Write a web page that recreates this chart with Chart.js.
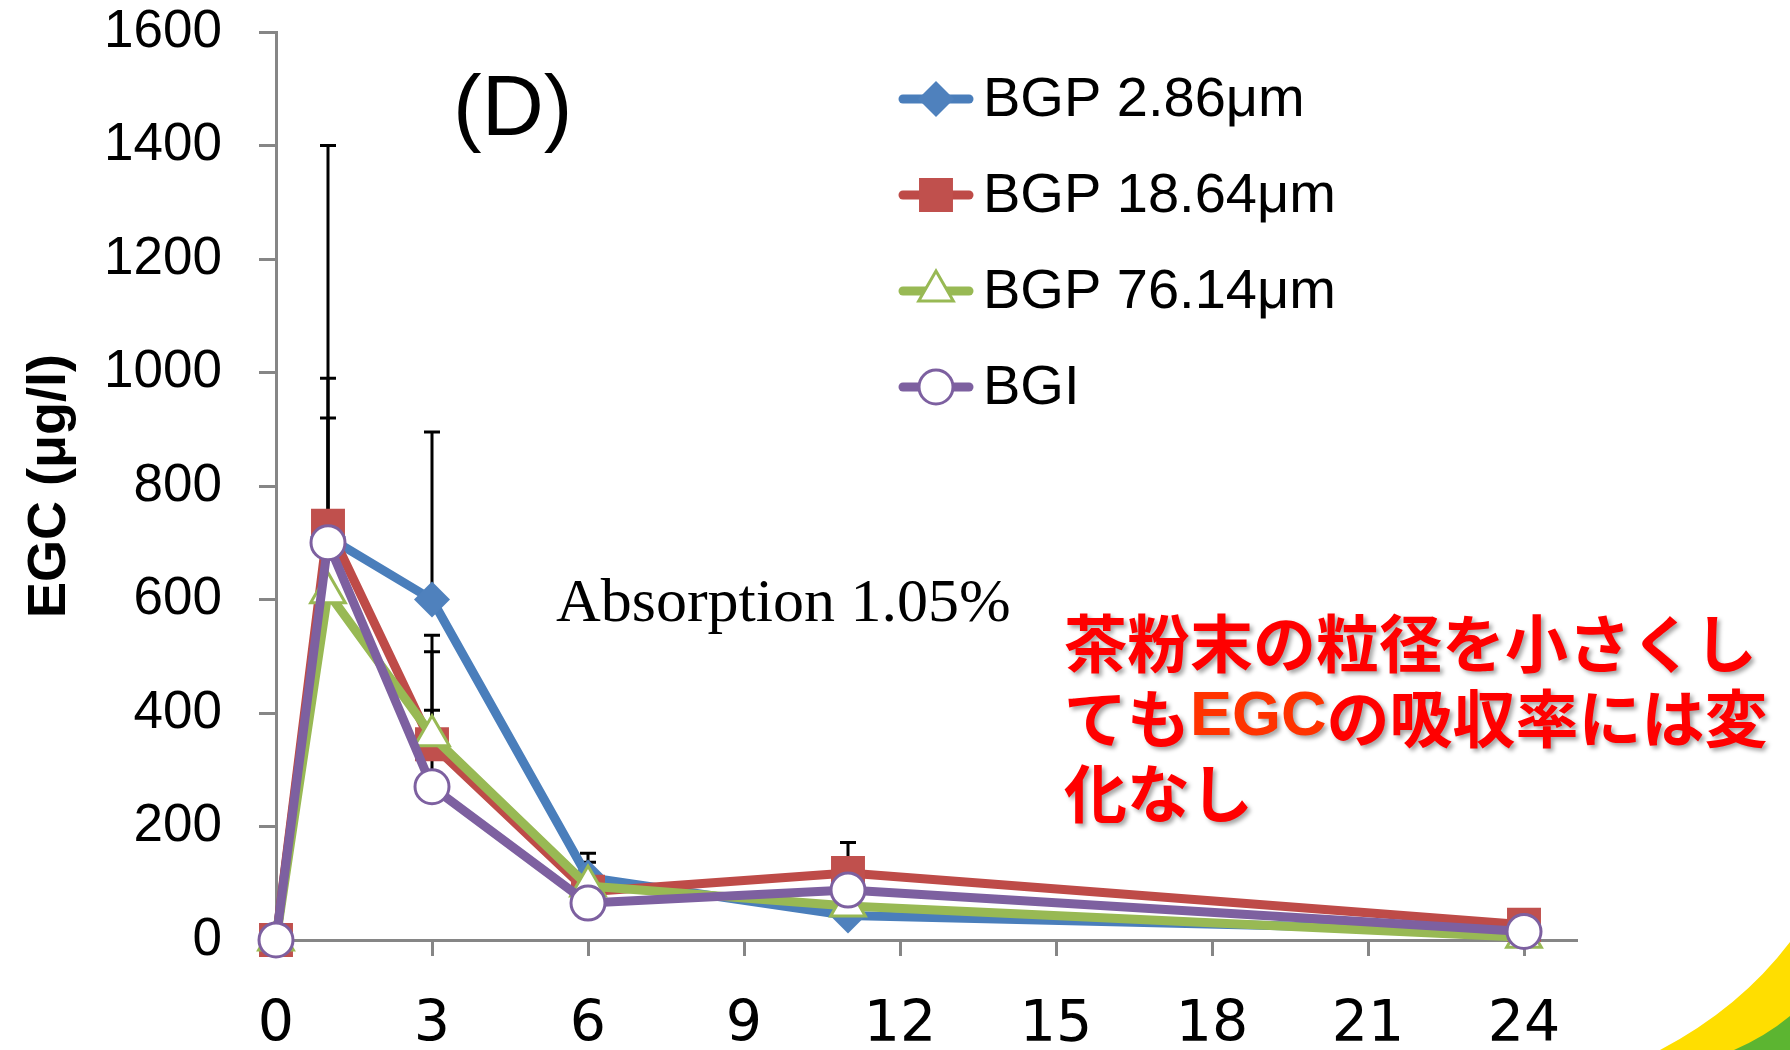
<!DOCTYPE html>
<html>
<head>
<meta charset="utf-8">
<script src="https://cdn.jsdelivr.net/npm/chart.js@4/dist/chart.umd.min.js"></script>
<style>
	body { margin: 0; background: #fff; }
	canvas { display: block; }
</style>
</head>
<body>
<canvas id="egc-chart" width="1790" height="1050"></canvas>
<script>
const hours = [0, 1, 3, 6, 11, 24];
const seriesNames = ["BGP 2.86μm", "BGP 18.64μm", "BGP 76.14μm", "BGI"];
const bgp286 = [0, 710, 600, 110, 43, 15];
const bgp1864 = [0, 730, 345, 85, 118, 27];
const bgp7614 = [0, 612, 360, 95, 60, 5];
const bgi = [0, 700, 270, 65, 88, 15];
// upper ends of the error bars (mean + SD), null = not visible
const err286 = [null, 1400, 895, 153, null, null];
const err1864 = [null, 990, 508, null, 172, null];
const err7614 = [null, null, 537, 137, null, null];
const errBgi = [null, 920, 405, null, null, null];
const xTicks = [0, 3, 6, 9, 12, 15, 18, 21, 24];
const noteLines = ["茶粉末の粒径を小さくし", "てもEGCの吸収率には変", "化なし"];

const toPoints = (values) => values.map((v, i) => ({ x: hours[i], y: v }));
const axisGrey = "#868686";

const errorBars = {
	id: "errorBars",
	beforeDatasetsDraw(chart) {
		const { ctx, scales } = chart;
		ctx.save();
		ctx.strokeStyle = "#000";
		ctx.lineWidth = 3;
		chart.data.datasets.forEach((ds) => {
			ds.errUp.forEach((top, i) => {
				if (top === null) return;
				const x = scales.x.getPixelForValue(hours[i]);
				const y0 = scales.y.getPixelForValue(ds.data[i].y);
				const y1 = scales.y.getPixelForValue(top);
				ctx.beginPath();
				ctx.moveTo(x, y0);
				ctx.lineTo(x, y1);
				ctx.moveTo(x - 8, y1);
				ctx.lineTo(x + 8, y1);
				ctx.stroke();
			});
		});
		ctx.restore();
	},
};

const overlay = {
	id: "overlay",
	afterDraw(chart) {
		const ctx = chart.ctx;
		ctx.save();

		// legend: line sample with marker, drawn from the datasets
		chart.data.datasets.forEach((ds, i) => {
			const y = 99 + i * 96;
			ctx.strokeStyle = ds.borderColor;
			ctx.lineWidth = 9;
			ctx.lineCap = "round";
			ctx.beginPath();
			ctx.moveTo(903, y);
			ctx.lineTo(969, y);
			ctx.stroke();
			ctx.fillStyle = ds.pointBackgroundColor;
			ctx.strokeStyle = ds.pointBorderColor;
			ctx.lineWidth = ds.pointBorderWidth;
			Chart.helpers.drawPoint(ctx, {
				pointStyle: ds.pointStyle,
				radius: ds.pointRadius,
				rotation: 0,
				borderWidth: ds.pointBorderWidth,
			}, 936, y);
			ctx.fillStyle = "#000";
			ctx.font = "56px 'Liberation Sans', Arial, sans-serif";
			ctx.textBaseline = "middle";
			ctx.textAlign = "left";
			ctx.fillText(ds.label, 983, y + 2);
		});

		ctx.fillStyle = "#000";
		ctx.textBaseline = "alphabetic";
		ctx.font = "86px 'Liberation Sans', Arial, sans-serif";
		ctx.fillText("(D)", 453, 135);
		ctx.font = "62px 'Liberation Serif', 'Times New Roman', serif";
		ctx.fillText("Absorption 1.05%", 556, 621);

		// red note with soft shadow
		ctx.shadowColor = "rgba(0,0,0,0.35)";
		ctx.shadowOffsetX = 3;
		ctx.shadowOffsetY = 3;
		ctx.shadowBlur = 4;
		ctx.textBaseline = "middle";
		const jp = "bold 63px 'Noto Sans CJK JP', sans-serif";
		const lat = "bold 63px 'Liberation Sans', Arial, sans-serif";
		noteLines.forEach((line, i) => {
			const y = 643 + i * 75;
			let x = 1064;
			const parts = line.split(/(EGC)/);
			parts.forEach((part) => {
				if (!part) return;
				const isLatin = part === "EGC";
				ctx.font = isLatin ? lat : jp;
				ctx.fillStyle = isLatin ? "#ff3300" : "#ff0000";
				ctx.fillText(part, x, y);
				x += ctx.measureText(part).width;
			});
		});
		ctx.shadowColor = "transparent";

		// slide corner decoration
		ctx.fillStyle = "#ffde00";
		ctx.beginPath();
		ctx.moveTo(1660, 1050);
		ctx.quadraticCurveTo(1740, 1008, 1790, 942);
		ctx.lineTo(1790, 1050);
		ctx.closePath();
		ctx.fill();
		ctx.fillStyle = "#5cb531";
		ctx.beginPath();
		ctx.moveTo(1734, 1050);
		ctx.quadraticCurveTo(1766, 1036, 1790, 1016);
		ctx.lineTo(1790, 1050);
		ctx.closePath();
		ctx.fill();
		ctx.restore();
	},
};

const baseSet = {
	borderWidth: 9,
	borderCapStyle: "round",
	borderJoinStyle: "round",
	tension: 0,
	clip: false,
	pointHoverRadius: 0,
};

new Chart(document.getElementById("egc-chart"), {
	type: "line",
	data: {
		datasets: [
			{
				...baseSet,
				label: seriesNames[0],
				data: toPoints(bgp286),
				errUp: err286,
				order: 4,
				borderColor: "#4A7EBB",
				pointStyle: "rectRot",
				pointRadius: 18,
				pointBackgroundColor: "#4F81BD",
				pointBorderColor: "#4F81BD",
				pointBorderWidth: 0,
			},
			{
				...baseSet,
				label: seriesNames[1],
				data: toPoints(bgp1864),
				errUp: err1864,
				order: 3,
				borderColor: "#BE4B48",
				pointStyle: "rect",
				pointRadius: 24,
				pointBackgroundColor: "#C0504D",
				pointBorderColor: "#C0504D",
				pointBorderWidth: 0,
			},
			{
				...baseSet,
				label: seriesNames[2],
				data: toPoints(bgp7614),
				errUp: err7614,
				order: 2,
				borderColor: "#98B954",
				pointStyle: "triangle",
				pointRadius: 20,
				pointBackgroundColor: "#fff",
				pointBorderColor: "#98B954",
				pointBorderWidth: 3,
			},
			{
				...baseSet,
				label: seriesNames[3],
				data: toPoints(bgi),
				errUp: errBgi,
				order: 1,
				borderColor: "#7D60A0",
				pointStyle: "circle",
				pointRadius: 17,
				pointBackgroundColor: "#fff",
				pointBorderColor: "#7D60A0",
				pointBorderWidth: 3,
			},
		],
	},
	plugins: [errorBars, overlay],
	options: {
		responsive: false,
		animation: false,
		devicePixelRatio: 1,
		layout: { padding: { top: 32, right: 214, left: 0, bottom: 0 } },
		plugins: {
			legend: { display: false },
			tooltip: { enabled: false },
		},
		scales: {
			x: {
				type: "linear",
				min: 0,
				max: 25,
				afterBuildTicks: (scale) => {
					scale.ticks = xTicks.map((v) => ({ value: v }));
				},
				afterFit: (scale) => {
					scale.height = 110;
				},
				grid: {
					drawOnChartArea: false,
					drawTicks: true,
					tickLength: 16,
					color: axisGrey,
					lineWidth: 3,
				},
				border: { color: axisGrey, width: 3 },
				ticks: {
					color: "#000",
					padding: 36,
					maxRotation: 0,
					font: { family: "'DejaVu Sans', sans-serif", size: 57 },
				},
			},
			y: {
				min: 0,
				max: 1600,
				afterFit: (scale) => {
					scale.width = 276;
					// tick padding would otherwise push the top of the plot down
					scale.paddingTop = 0;
					scale.paddingBottom = 0;
				},
				grid: {
					drawOnChartArea: false,
					drawTicks: true,
					tickLength: 17,
					color: axisGrey,
					lineWidth: 3,
				},
				border: { color: axisGrey, width: 3 },
				ticks: {
					stepSize: 200,
					color: "#000",
					padding: 37,
					callback: (v) => String(v),
					font: { family: "'Liberation Sans', Arial, sans-serif", size: 53 },
				},
				title: {
					display: true,
					text: "EGC (μg/l)",
					color: "#000",
					padding: { top: 18, bottom: 0 },
					font: { family: "'Liberation Sans', Arial, sans-serif", size: 54, weight: "bold" },
				},
			},
		},
	},
});
</script>
</body>
</html>
